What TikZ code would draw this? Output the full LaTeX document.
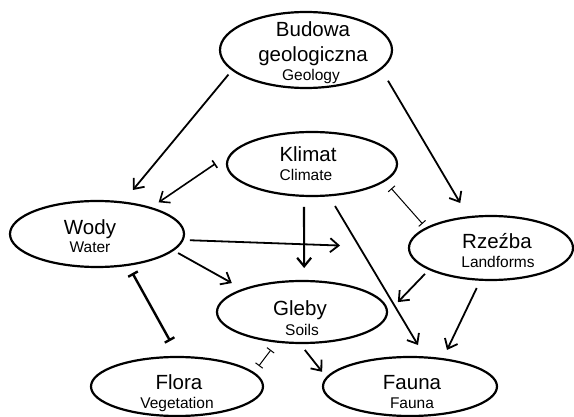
\documentclass[tikz,border=0pt]{standalone}
\usepackage{fontspec}
\setmainfont{Liberation Sans}
\usetikzlibrary{shapes.geometric,arrows.meta}
\tikzset{
  ell/.style={draw, line width=2.2pt, ellipse, inner sep=0pt, outer sep=0pt},
  maintxt/.style={font=\fontsize{20.5}{24}\selectfont, anchor=base, inner sep=0pt},
  subtxt/.style={font=\fontsize{15.5}{18}\selectfont, anchor=base, inner sep=0pt},
  arr/.style={line width=1.8pt, -{Straight Barb[length=8.5pt,width=14pt]}},
  barthin/.style={line width=1pt, {Bar[width=9pt]}-{Bar[width=9pt]}},
  barthick/.style={line width=2.4pt, {Bar[width=11pt]}-{Bar[width=11pt]}},
}
\begin{document}
\begin{tikzpicture}[x=1pt,y=-1pt]
\useasboundingbox (0,0) rectangle (574,417);
% ellipses
\node[ell, minimum width=172pt, minimum height=76pt] (budowa) at (306,50) {};
\node[ell, minimum width=170pt, minimum height=64pt] (klimat) at (312,164) {};
\node[ell, minimum width=174pt, minimum height=66pt] (wody) at (97,234) {};
\node[ell, minimum width=164pt, minimum height=64pt] (rzeba) at (491,248) {};
\node[ell, minimum width=170pt, minimum height=62pt] (gleby) at (302,312) {};
\node[ell, minimum width=172pt, minimum height=59pt] (flora) at (177,386.5) {};
\node[ell, minimum width=174pt, minimum height=59pt] (fauna) at (410,386.5) {};
% texts
\node[maintxt] (tb1) at (313,37) {Budowa};
\node[maintxt] (tb2) at (313,62) {geologiczna};
\node[subtxt] (tb3) at (311,81) {Geology};
\node[maintxt] (tk1) at (308,162) {Klimat};
\node[subtxt] (tk2) at (306,181) {Climate};
\node[maintxt] (tw1) at (90,235) {Wody};
\node[subtxt] (tw2) at (90,253) {Water};
\node[maintxt] (tr1) at (497,249) {Rzeźba};
\node[subtxt] (tr2) at (498,268) {Landforms};
\node[maintxt] (tg1) at (300,316) {Gleby};
\node[subtxt] (tg2) at (302,336) {Soils};
\node[maintxt] (tf1) at (179,389) {Flora};
\node[subtxt] (tf2) at (177,408) {Vegetation};
\node[maintxt] (ta1) at (412,389) {Fauna};
\node[subtxt] (ta2) at (412,408) {Fauna};
% connectors
\draw[arr, shorten <=6.3pt, shorten >=16.2pt] (budowa.195.5) -- (wody.51);
\draw[arr, shorten <=14pt, shorten >=16.5pt] (budowa.346.7) -- (rzeba.126.5);
\draw[line width=1.6pt, {Straight Barb[length=8.5pt,width=14pt]}-{Bar[width=9pt]}, shorten <=10pt, shorten >=25.5pt] (wody.26.6) -- (klimat.169);
\draw[arr, line width=2.2pt, shorten <=11pt, shorten >=13pt] (klimat.256) -- (gleby.86);
\draw[arr, shorten <=7.3pt, shorten >=69pt] (wody.356) -- (rzeba.west);
\draw[arr, shorten <=6pt, shorten >=13.3pt] (wody.348) -- (gleby.159);
\draw[arr, shorten <=12.4pt, shorten >=14.5pt] (klimat.298) -- (fauna.62);
\draw[barthin, shorten <=10.3pt, shorten >=6pt] (klimat.347.5) -- (rzeba.163.4);
\draw[arr, shorten <=6.6pt, shorten >=15.8pt] (rzeba.199) -- (gleby.359);
\draw[arr, shorten <=9.2pt, shorten >=10.2pt] (rzeba.252.5) -- (fauna.40);
\draw[barthick, shorten <=9.4pt, shorten >=18.3pt] (wody.315.6) -- (flora.86);
\draw[barthin, shorten <=10.4pt, shorten >=8.9pt] (gleby.230) -- (flora.10);
\draw[arr, shorten <=8.9pt, shorten >=7.6pt] (gleby.265.6) -- (fauna.174);
\end{tikzpicture}
\end{document}
